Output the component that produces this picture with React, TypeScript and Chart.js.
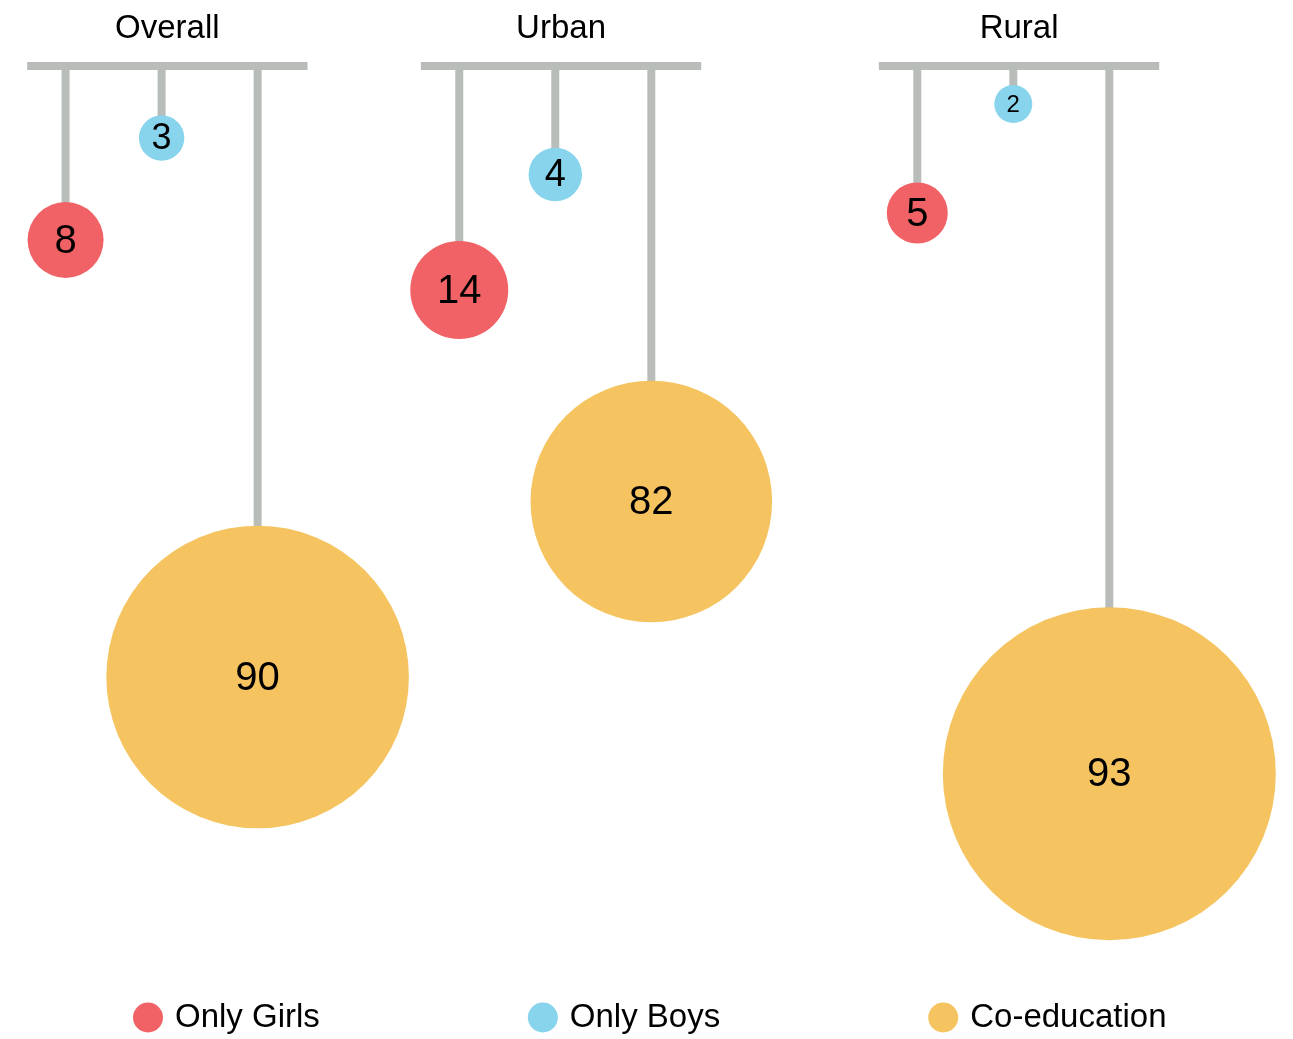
import React, { useEffect, useRef } from "react";
import { Chart, registerables } from "chart.js";

Chart.register(...registerables);

if (typeof document !== "undefined") {
  document.body.style.margin = "0";
}

// ---- data ----
const groupLabels = ["Overall", "Urban", "Rural"];
const seriesLabels = ["Only Girls", "Only Boys", "Co-education"];

// percentage of schools (numbers printed in the bubbles)
const onlyGirls = [8, 14, 5];
const onlyBoys = [3, 4, 2];
const coEducation = [90, 82, 93];

// hanging depth of each bubble centre below the bar (y-axis units)
const onlyGirlsDepth = [17.4, 22.4, 14.7];
const onlyBoysDepth = [7.2, 10.85, 3.8];
const coEducationDepth = [61.1, 43.55, 70.77];

// bubble radius as drawn (y-axis units)
const onlyGirlsRadius = [3.8, 4.9, 3.05];
const onlyBoysRadius = [2.27, 2.67, 1.9];
const coEducationRadius = [15.13, 12.08, 16.65];

// ---- styling / layout ----
const COLORS = ["#f16266", "#87d4ec", "#f5c461"];
const STRING_COLOR = "#b8bdba";
const TEXT_COLOR = "#000000";
const FONT = "'Liberation Sans', Arial, Helvetica, sans-serif";
const GROUP_START = [0, 4.1, 8.87]; // x-axis slot where each group begins
const BAR_LEFT = -0.4;
const BAR_RIGHT = 2.52;
const LEGEND_START = 133;
const LEGEND_GAP = 208;
const LEGEND_FROM_BOTTOM = 21.5;

type Pt = { x: number; y: number; r: number; size: number; value: number };

function makePoints(values: number[], depths: number[], radii: number[], slot: number): Pt[] {
  return values.map((v, g) => ({ x: GROUP_START[g] + slot, y: depths[g], r: 1, size: radii[g], value: v }));
}

const hangingPlugin = {
  id: "hanging",
  beforeDatasetsDraw(chart: any) {
    const { ctx } = chart;
    const xs = chart.scales.x;
    const ys = chart.scales.y;
    const barY = ys.getPixelForValue(0);
    ctx.save();
    GROUP_START.forEach((gs, g) => {
      const x0 = xs.getPixelForValue(gs + BAR_LEFT);
      const x1 = xs.getPixelForValue(gs + BAR_RIGHT);
      ctx.fillStyle = STRING_COLOR;
      ctx.fillRect(x0, barY - 4, x1 - x0, 8);
      ctx.fillStyle = TEXT_COLOR;
      ctx.font = `33px ${FONT}`;
      ctx.textAlign = "center";
      ctx.textBaseline = "alphabetic";
      ctx.fillText(groupLabels[g], (x0 + x1) / 2, barY - 28);
    });
    ctx.strokeStyle = STRING_COLOR;
    ctx.lineWidth = 8;
    ctx.lineCap = "butt";
    chart.data.datasets.forEach((_ds: any, i: number) => {
      const meta = chart.getDatasetMeta(i);
      meta.data.forEach((el: any) => {
        ctx.beginPath();
        ctx.moveTo(el.x, barY);
        ctx.lineTo(el.x, el.y);
        ctx.stroke();
      });
    });
    ctx.restore();
  },
  afterDatasetsDraw(chart: any) {
    const { ctx } = chart;
    ctx.save();
    ctx.fillStyle = TEXT_COLOR;
    ctx.textAlign = "center";
    ctx.textBaseline = "middle";
    chart.data.datasets.forEach((ds: any, i: number) => {
      const meta = chart.getDatasetMeta(i);
      meta.data.forEach((el: any, j: number) => {
        const r = el.options.radius;
        const fs = r < 20 ? 24 : r < 25 ? 36 : r < 28 ? 38 : 40;
        ctx.font = `${fs}px ${FONT}`;
        ctx.fillText(String(ds.data[j].value), el.x, el.y + 1.5);
      });
    });
    ctx.restore();
  },
  afterDraw(chart: any) {
    const { ctx } = chart;
    ctx.save();
    const cy = chart.height - LEGEND_FROM_BOTTOM;
    let x = LEGEND_START;
    ctx.font = `33px ${FONT}`;
    ctx.textAlign = "left";
    ctx.textBaseline = "middle";
    chart.data.datasets.forEach((ds: any) => {
      ctx.fillStyle = ds.backgroundColor;
      ctx.beginPath();
      ctx.arc(x + 15, cy, 15, 0, Math.PI * 2);
      ctx.fill();
      ctx.fillStyle = TEXT_COLOR;
      ctx.fillText(ds.label, x + 42, cy);
      x += 42 + ctx.measureText(ds.label).width + LEGEND_GAP;
    });
    ctx.restore();
  },
};

export default function App() {
  const canvasRef = useRef<HTMLCanvasElement | null>(null);

  useEffect(() => {
    if (!canvasRef.current) return;
    const mk = (label: string, data: Pt[], color: string) => ({
      label,
      data,
      backgroundColor: color,
      borderWidth: 0,
      hoverRadius: 0,
      clip: false,
    });
    const chart = new Chart(canvasRef.current, {
      type: "bubble",
      data: {
        datasets: [
          mk(seriesLabels[0], makePoints(onlyGirls, onlyGirlsDepth, onlyGirlsRadius, 0), COLORS[0]),
          mk(seriesLabels[1], makePoints(onlyBoys, onlyBoysDepth, onlyBoysRadius, 1), COLORS[1]),
          mk(seriesLabels[2], makePoints(coEducation, coEducationDepth, coEducationRadius, 2), COLORS[2]),
        ] as any,
      },
      options: {
        animation: false,
        responsive: true,
        maintainAspectRatio: false,
        events: [],
        layout: { autoPadding: false, padding: { top: 66, bottom: 73, left: 0, right: 0 } },
        scales: {
          x: { type: "linear", display: false, min: -0.683, max: 12.783 },
          y: { type: "linear", display: false, reverse: true, min: 0, max: 90 },
        },
        plugins: {
          legend: { display: false },
          tooltip: { enabled: false },
        },
      } as any,
      plugins: [hangingPlugin],
    });
    // convert each bubble's radius (y-axis units) to pixels through the y scale
    const ys: any = chart.scales.y;
    chart.data.datasets.forEach((ds: any) => {
      ds.data.forEach((p: Pt) => {
        p.r = Math.abs(ys.getPixelForValue(p.size) - ys.getPixelForValue(0));
      });
    });
    chart.update();
    return () => chart.destroy();
  }, []);

  return (
    <div style={{ position: "relative", width: "1293px", height: "1039px" }}>
      <canvas ref={canvasRef} />
    </div>
  );
}
